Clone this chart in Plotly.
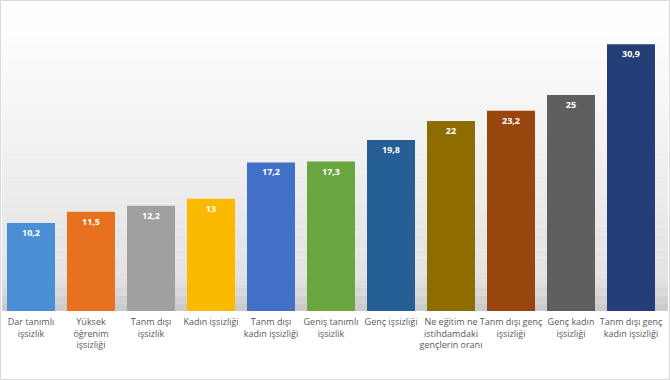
import plotly.graph_objects as go

categories = [
    "Dar tanımlı<br>işsizlik",
    "Yüksek<br>öğrenim<br>işsizliği",
    "Tanm dışı<br>işsizlik",
    "Kadın işsizliği",
    "Tanm dışı<br>kadın işsizliği",
    "Geniş tanımlı<br>işsizlik",
    "Genç işsizliği",
    "Ne eğitim ne<br>istihdamdaki<br>gençlerin oranı",
    "Tanm dışı genç<br>işsizliği",
    "Genç kadın<br>işsizliği",
    "Tanm dışı genç<br>kadın işsizliği",
]
values = [10.2, 11.5, 12.2, 13, 17.2, 17.3, 19.8, 22, 23.2, 25, 30.9]
value_labels = ["10,2", "11,5", "12,2", "13", "17,2", "17,3", "19,8", "22", "23,2", "25", "30,9"]
bar_colors = ["#4A8FD6", "#E8711F", "#A0A0A0", "#FBBA00", "#4170C6", "#6AA640",
              "#255F95", "#8F6C00", "#98450E", "#5F5F5F", "#243F77"]

W, H = 670, 380
ml, mr, mt, mb = 1, 9, 26, 69
pw, ph = W - ml - mr, H - mt - mb

def px_x(x):
    return (x - ml) / pw

def px_y(y):
    return (H - mb - y) / ph

shapes = []
n = 40
top, floor = 4, H - mb
for i in range(n):
    y0 = top + (floor - top) * i / n
    y1 = top + (floor - top) * (i + 1) / n
    t = (i + 0.5) / n
    if t < 0.1:
        v = 254
    elif t < 0.9:
        v = int(254 - (254 - 226) * ((t - 0.1) / 0.8))
    else:
        v = int(226 - (226 - 200) * ((t - 0.9) / 0.1))
    col = f"rgb({v},{v},{v})"
    shapes.append(dict(type="rect", xref="paper", yref="paper", layer="below",
                       x0=px_x(2), x1=px_x(W - 2), y0=px_y(y1), y1=px_y(y0),
                       fillcolor=col, line=dict(width=0)))
shapes.append(dict(type="rect", xref="paper", yref="paper", layer="above",
                   x0=px_x(0.5), x1=px_x(W - 0.5), y0=px_y(H - 0.5), y1=px_y(0.5),
                   fillcolor="rgba(0,0,0,0)", line=dict(color="#D9D9D9", width=1)))

fig = go.Figure(go.Bar(
    x=categories, y=values,
    marker=dict(color=bar_colors, line=dict(width=0)),
    text=value_labels, textposition="inside", insidetextanchor="end",
    textangle=0, constraintext="none",
    textfont=dict(family="Open Sans", size=9, color="white", weight="bold"),
    hoverinfo="skip",
))

fig.update_layout(
    width=W, height=H,
    margin=dict(l=ml, r=mr, t=mt, b=mb, autoexpand=False),
    paper_bgcolor="white", plot_bgcolor="rgba(0,0,0,0)",
    bargap=0.2, showlegend=False,
    shapes=shapes,
    font=dict(family="Open Sans", size=9, color="#595959"),
)
fig.update_xaxes(showline=False, showgrid=False, ticks="", tickangle=0, automargin=False,
                 ticklabelstandoff=4,
                 tickfont=dict(family="Open Sans", size=9, color="#595959"))
fig.update_yaxes(range=[0, 33], visible=False, showgrid=False, automargin=False)

fig.write_html("out.html", config={"displayModeBar": False},
               post_script="document.body.style.margin='0';document.body.style.overflow='hidden';")
